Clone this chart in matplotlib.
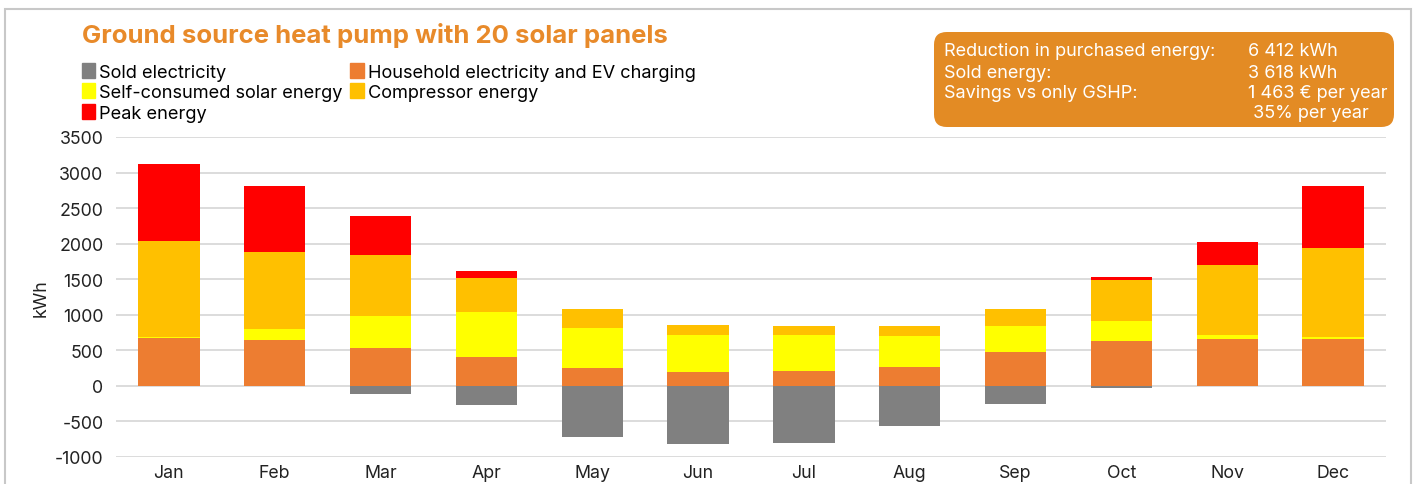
import matplotlib.pyplot as plt
from matplotlib.patches import Patch, Rectangle, FancyBboxPatch
import numpy as np

plt.rcParams['font.family'] = ['Inter', 'DejaVu Sans']
plt.rcParams['axes.unicode_minus'] = False

months = ['Jan', 'Feb', 'Mar', 'Apr', 'May', 'Jun', 'Jul', 'Aug', 'Sep', 'Oct', 'Nov', 'Dec']
sold = [0, 0, -115, -272, -722, -816, -801, -562, -263, -32, 0, 0]
household = [665, 647, 530, 408, 244, 197, 211, 263, 478, 623, 661, 661]
solar = [20, 145, 445, 632, 562, 520, 502, 436, 366, 291, 52, 28]
compressor = [1345, 1092, 857, 478, 277, 141, 131, 145, 239, 567, 988, 1251]
peak = [1090, 928, 558, 95, 0, 0, 0, 0, 0, 52, 319, 872]

c_sold = '#808080'
c_house = '#ED7D31'
c_solar = '#FFFF00'
c_comp = '#FFC000'
c_peak = '#FF0000'
orange = '#E88A2A'

fig = plt.figure(figsize=(14.16, 4.85), dpi=100)
ax = fig.add_axes([0.0819, 0.0563, 0.8969, 0.6592])

x = np.arange(len(months))
w = 0.58
b1 = np.array(household)
b2 = b1 + np.array(solar)
b3 = b2 + np.array(compressor)

ax.bar(x, sold, w, color=c_sold, zorder=3)
ax.bar(x, household, w, color=c_house, zorder=3)
ax.bar(x, solar, w, bottom=b1, color=c_solar, zorder=3)
ax.bar(x, compressor, w, bottom=b2, color=c_comp, zorder=3)
ax.bar(x, peak, w, bottom=b3, color=c_peak, zorder=3)

ax.set_xlim(-0.5, 11.5)
ax.set_ylim(-1000, 3500)
ax.set_yticks(np.arange(-1000, 3501, 500))
ax.set_xticks(x)
ax.set_xticklabels(months)
ax.grid(axis='y', color='#d9d9d9', linewidth=1.3, zorder=0)
for s in ax.spines.values():
    s.set_visible(False)
ax.tick_params(length=0, labelsize=12.8, colors='#222222')
ax.tick_params(axis='y', pad=9)
ax.tick_params(axis='x', pad=5)
ax.set_ylabel('kWh', fontsize=12.8, labelpad=4, color='#222222')

# outer frame
fig.patches.append(Rectangle((5 / 1416, -0.1), 1406 / 1416, 1.1 - 10 / 485,
                             transform=fig.transFigure, fill=False,
                             edgecolor='#c8c8c8', linewidth=1.5))

fig.text(82 / 1416, 1 - 36 / 485, 'Ground source heat pump with 20 solar panels',
         fontsize=18.5, fontweight='bold', color=orange, va='center', ha='left')

handles = [Patch(color=c_sold, label='Sold electricity'),
           Patch(color=c_solar, label='Self-consumed solar energy'),
           Patch(color=c_peak, label='Peak energy'),
           Patch(color=c_house, label='Household electricity and EV charging'),
           Patch(color=c_comp, label='Compressor energy')]
fig.legend(handles=handles, ncol=2, loc='upper left',
           bbox_to_anchor=(69 / 1416, 1 - 51 / 485), frameon=False,
           fontsize=13.1, handlelength=0.75, handleheight=0.9, handletextpad=0.22,
           labelspacing=0.15, columnspacing=0.4, borderpad=0.2)

# info box
fig.patches.append(FancyBboxPatch((934 / 1416, 1 - 128 / 485), 460 / 1416, 95 / 485,
                                  boxstyle='round,pad=0,rounding_size=0.009',
                                  transform=fig.transFigure, facecolor='#E38B24',
                                  edgecolor='none', mutation_aspect=2.9))
left_lines = ['Reduction in purchased energy:', 'Sold energy:', 'Savings vs only GSHP:']
right_lines = ['6 412 kWh', '3 618 kWh', '1 463 € per year', ' 35% per year']
ys = [52, 73, 94, 114]
for t, y in zip(left_lines, ys):
    fig.text(944 / 1416, 1 - y / 485, t, fontsize=13, color='white', va='center', ha='left')
for t, y in zip(right_lines, ys):
    fig.text(1248 / 1416, 1 - y / 485, t, fontsize=13, color='white', va='center', ha='left')

fig.savefig('out.png', dpi=100)
